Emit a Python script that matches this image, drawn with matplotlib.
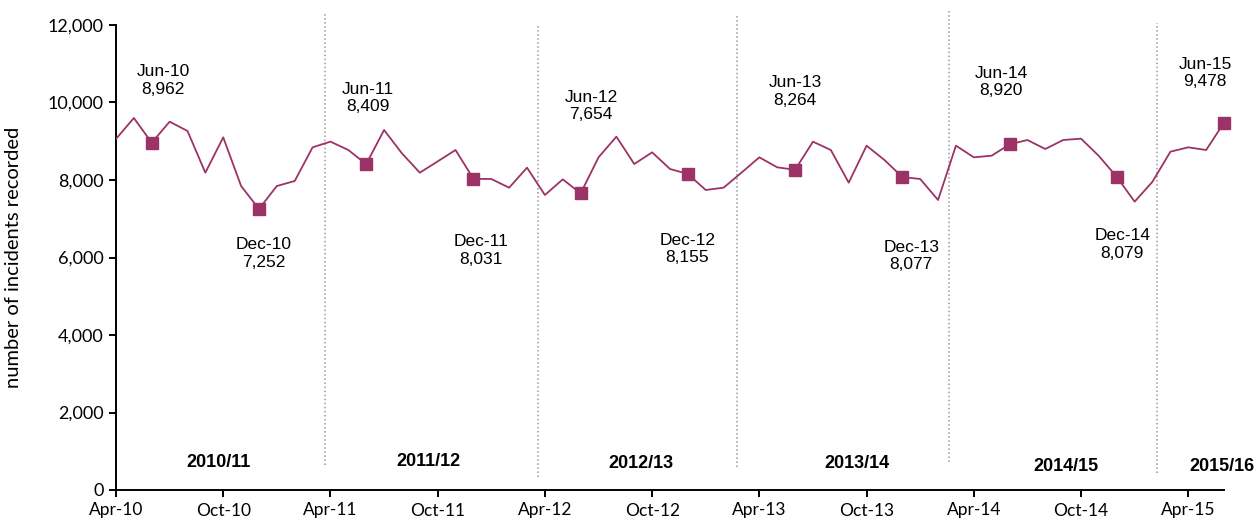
import matplotlib
matplotlib.use('Agg')
import matplotlib.pyplot as plt
import numpy as np

# monthly incidents, Apr-10 .. Jun-15
months = ['Apr-10', 'May-10', 'Jun-10', 'Jul-10', 'Aug-10', 'Sep-10', 'Oct-10', 'Nov-10', 'Dec-10',
          'Jan-11', 'Feb-11', 'Mar-11', 'Apr-11', 'May-11', 'Jun-11', 'Jul-11', 'Aug-11', 'Sep-11',
          'Oct-11', 'Nov-11', 'Dec-11', 'Jan-12', 'Feb-12', 'Mar-12', 'Apr-12', 'May-12', 'Jun-12',
          'Jul-12', 'Aug-12', 'Sep-12', 'Oct-12', 'Nov-12', 'Dec-12', 'Jan-13', 'Feb-13', 'Mar-13',
          'Apr-13', 'May-13', 'Jun-13', 'Jul-13', 'Aug-13', 'Sep-13', 'Oct-13', 'Nov-13', 'Dec-13',
          'Jan-14', 'Feb-14', 'Mar-14', 'Apr-14', 'May-14', 'Jun-14', 'Jul-14', 'Aug-14', 'Sep-14',
          'Oct-14', 'Nov-14', 'Dec-14', 'Jan-15', 'Feb-15', 'Mar-15', 'Apr-15', 'May-15', 'Jun-15']
incidents = [9060, 9600, 8962, 9505, 9265, 8189, 9101, 7845, 7252,
             7845, 7974, 8843, 8990, 8774, 8409, 9290, 8688, 8189,
             8480, 8774, 8031, 8026, 7802, 8318, 7613, 8017, 7654,
             8585, 9118, 8413, 8714, 8284, 8155, 7742, 7802, 8190,
             8585, 8327, 8264, 8989, 8774, 7931, 8886, 8516, 8077,
             8026, 7484, 8886, 8585, 8628, 8920, 9032, 8800, 9032,
             9067, 8619, 8079, 7441, 7957, 8731, 8843, 8774, 9478]
highlight = ['Jun-10', 'Dec-10', 'Jun-11', 'Dec-11', 'Jun-12', 'Dec-12',
             'Jun-13', 'Dec-13', 'Jun-14', 'Dec-14', 'Jun-15']
tick_labels = ['Apr-10', 'Oct-10', 'Apr-11', 'Oct-11', 'Apr-12', 'Oct-12',
               'Apr-13', 'Oct-13', 'Apr-14', 'Oct-14', 'Apr-15']
years = ['2010/11', '2011/12', '2012/13', '2013/14', '2014/15', '2015/16']

# layout only
label_pos = [(2.63, 10568), (8.28, 6103), (14.10, 10116), (20.43, 6181), (26.59, 9910),
             (31.96, 6219), (38.0, 10284), (44.5, 6039), (49.53, 10529), (56.3, 6335), (60.95, 10760)]
year_pos = [(5.76, 697), (17.46, 723), (29.38, 671), (41.47, 671), (53.17, 619), (61.9, 594)]
dividers = [(11.70, 645, 12284), (23.62, 335, 12000), (34.76, 594, 12284),
            (46.62, 723, 12387), (58.27, 439, 12052)]

col = '#9B3366'
x = np.arange(len(months))

fig = plt.figure(figsize=(12.56, 5.28), dpi=100)
ax = fig.add_axes([116 / 1256, 38 / 528, (1224 - 116) / 1256, 465 / 528])

ax.plot(x, incidents, color=col, lw=1.3, zorder=3)
hx = [months.index(m) for m in highlight]
hy = [incidents[i] for i in hx]
ax.plot(hx, hy, ls='none', marker='s', ms=8.5, color=col, zorder=4, clip_on=False)

for m, v, (tx, ty) in zip(highlight, hy, label_pos):
    ax.text(tx, ty, '%s\n%s' % (m, format(v, ',')), ha='center', va='center',
            fontsize=12.5, family='Liberation Sans', linespacing=1.2)

for (dx, y0, y1) in dividers:
    ax.plot([dx, dx], [y0, y1], color='#999999', ls=':', lw=1.1, clip_on=False, zorder=1)

for yr, (tx, ty) in zip(years, year_pos):
    ax.text(tx, ty, yr, ha='center', va='center', fontsize=13, fontweight='bold',
            family='Liberation Sans')

ax.set_xlim(0, len(months) - 1)
ax.set_ylim(0, 12000)
ax.set_yticks(range(0, 12001, 2000))
ax.set_yticklabels([format(v, ',') for v in range(0, 12001, 2000)], family='Lato', fontsize=13)
ax.set_xticks([months.index(t) for t in tick_labels])
ax.set_xticklabels(tick_labels, family='Lato', fontsize=12.5)
ax.set_ylabel('number of incidents recorded', family='Lato', fontsize=14.5)

for s in ['top', 'right']:
    ax.spines[s].set_visible(False)
for s in ['left', 'bottom']:
    ax.spines[s].set_linewidth(1.4)
ax.tick_params(axis='both', direction='out', length=5, width=1.4, pad=4)
ax.yaxis.set_label_coords(-0.085, 0.5)

fig.savefig('out.png', dpi=100)
